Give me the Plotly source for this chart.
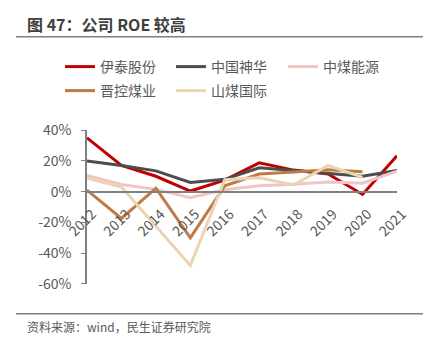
import plotly.graph_objects as go

years = ["2012", "2013", "2014", "2015", "2016", "2017", "2018", "2019", "2020", "2021"]
yitai = [35, 17, 10, 0.4, 7.5, 18.7, 14, 11.5, -1.8, 23.4]
shenhua = [20, 17, 13.5, 6, 8, 15.5, 13.7, 11.8, 10, 13.8]
zhongmei = [10.5, 4.7, 1.5, -4, 1.3, 3.8, 4.8, 6.2, 5.5, 13.4]
jinkong = [1, -17.4, 2.3, -30, 3.8, 11.5, 12.7, 14.2, 13, None]
shanmei = [8.8, 3, -22.5, -48, 7.8, 9, 4.3, 17, 9.3, None]
yticks = [40, 20, 0, -20, -40, -60]
ytick_labels = ["40%", "20%", "0%", "-20%", "-40%", "-60%"]

series = [
    ("伊泰股份", yitai, "#C00000"),
    ("中国神华", shenhua, "#4D4D4D"),
    ("中煤能源", zhongmei, "#EFC5C5"),
    ("晋控煤业", jinkong, "#C07A45"),
    ("山煤国际", shanmei, "#EAD5B2"),
]
# legend slot (left pixel, row center pixel) for each series
legend_pos = [(60, 67), (171, 67), (283, 67), (60, 91), (171, 91)]

FONT = "Microsoft YaHei, Noto Sans CJK SC, sans-serif"
W, H = 435, 351

fig = go.Figure()
layout_legends = {}
for i, ((name, vals, color), (lx, ly)) in enumerate(zip(series, legend_pos)):
    key = "legend" if i == 0 else f"legend{i + 1}"
    fig.add_trace(go.Scatter(x=years, y=vals, name=name, mode="lines",
                             line=dict(color=color, width=3), legend=key,
                             connectgaps=False))
    layout_legends[key] = dict(orientation="h", xref="container", yref="container",
                               x=lx / W, y=1 - ly / H,
                               xanchor="left", yanchor="middle",
                               font=dict(family=FONT, size=14, color="#595959"),
                               bgcolor="rgba(0,0,0,0)", borderwidth=0)

fig.update_layout(
    width=W, height=H,
    margin=dict(l=87, r=38, t=129, b=67),
    paper_bgcolor="white", plot_bgcolor="white",
    font=dict(family=FONT, color="#595959"),
    showlegend=True,
    xaxis=dict(type="category", anchor="free", position=0.6,
               showline=True, linecolor="#808080", linewidth=1.5,
               showgrid=False, zeroline=False,
               ticks="outside", ticklen=8, tickcolor="rgba(0,0,0,0)",
               ticklabelshift=5,
               tickangle=-45, tickfont=dict(family=FONT, size=14, color="#595959")),
    yaxis=dict(range=[-60, 40], tickvals=yticks, ticktext=ytick_labels,
               showline=True, linecolor="#808080", linewidth=1.5,
               ticks="outside", ticklen=4, tickcolor="#808080",
               ticklabelstandoff=7,
               showgrid=False, zeroline=False,
               tickfont=dict(family=FONT, size=14, color="#595959")),
    **layout_legends,
)

pw, ph = W - 87 - 38, H - 129 - 67

fig.add_annotation(text="<b>图 47：公司 ROE 较高</b>", xref="paper", yref="paper",
                   x=(25 - 87) / pw, y=1 + (129 - 22) / ph,
                   xanchor="left", yanchor="middle", showarrow=False,
                   font=dict(family=FONT, size=16, color="#404040"))
fig.add_annotation(text="资料来源：wind，民生证券研究院", xref="paper", yref="paper",
                   x=(25 - 87) / pw, y=-(327 - 284) / ph,
                   xanchor="left", yanchor="middle", showarrow=False,
                   font=dict(family=FONT, size=12, color="#595959"))

for ypix in (35, 314):
    yy = (H - 67 - ypix) / ph
    fig.add_shape(type="line", xref="paper", yref="paper",
                  x0=(16 - 87) / pw, x1=(423 - 87) / pw, y0=yy, y1=yy,
                  line=dict(color="#7F7F7F", width=1.5))

fig.write_html("out.html")
